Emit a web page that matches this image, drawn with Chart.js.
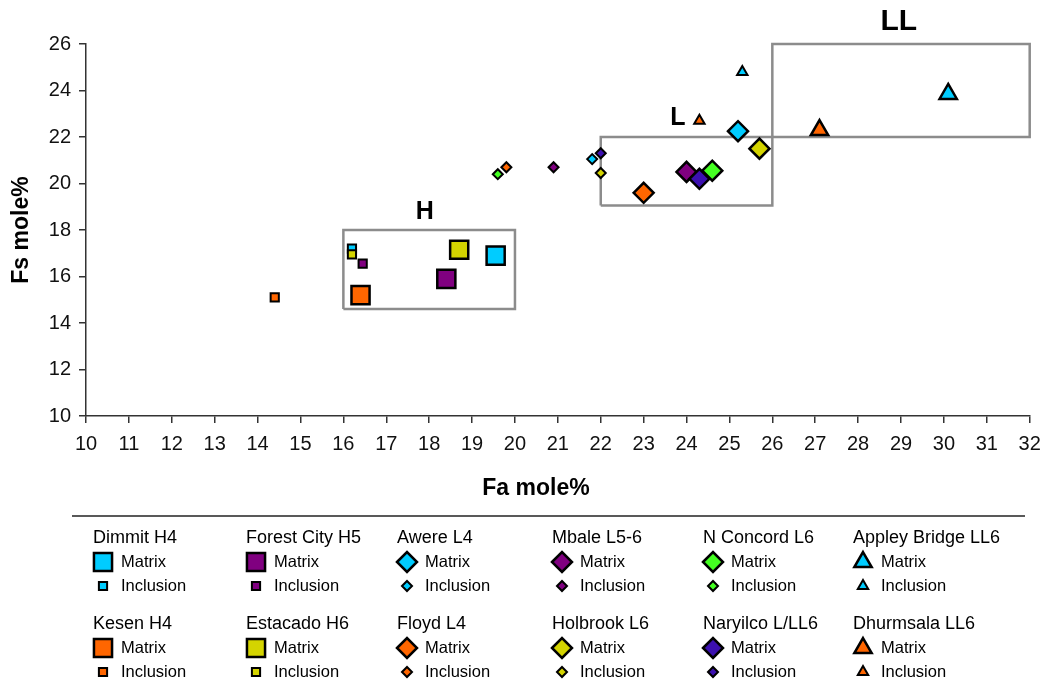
<!DOCTYPE html>
<html>
<head>
<meta charset="utf-8">
<script src="https://cdn.jsdelivr.net/npm/chart.js@4.4.1/dist/chart.umd.min.js"></script>
<style>
  html, body { margin: 0; padding: 0; background: #fff; }
  #wrap { position: relative; width: 1045px; height: 682px; }
</style>
</head>
<body>
<div id="wrap"><canvas id="olivineChart"></canvas></div>
<script>
// Meteorites, in legend order (two rows of six)
const meteorites = ['Dimmit H4', 'Forest City H5', 'Awere L4', 'Mbale L5-6', 'N Concord L6', 'Appley Bridge LL6',
                    'Kesen H4', 'Estacado H6', 'Floyd L4', 'Holbrook L6', 'Naryilco L/LL6', 'Dhurmsala LL6'];

// Olivine composition of the matrix and of the inclusions
const matrixFa    = [19.55, 18.4, 25.2, 24.0, 24.6, 30.1, 16.4, 18.7, 23.0, 25.7, 24.3, 27.1];
const matrixFs    = [16.9, 15.9, 22.25, 20.5, 20.55, 23.85, 15.2, 17.15, 19.6, 21.5, 20.2, 22.3];
const inclusionFa = [16.2, 16.45, 21.8, 20.9, 19.6, 25.3, 14.4, 16.2, 19.8, 22.0, 22.0, 24.3];
const inclusionFs = [17.2, 16.55, 21.05, 20.7, 20.4, 24.8, 15.1, 16.95, 20.7, 20.45, 21.3, 22.7];

// Equilibrated chondrite fields
const groupNames   = ['H', 'L', 'LL'];
const groupFa      = [[16, 20], [22, 26], [26, 32]];
const groupFs      = [[14.6, 18], [19.05, 22], [22, 26]];
const groupLabelFa = [17.9, 23.8, 28.95];
const groupLabelFs = [18.75, 22.8, 26.95];

// Axis ranges
const faRange = [10, 32, 1];
const fsRange = [10, 26, 2];

// Styles
const colors = ['#00ccff', '#800080', '#00ccff', '#800080', '#44ff22', '#00ccff',
                '#ff6600', '#d4d400', '#ff6600', '#d4d400', '#3c10b0', '#ff6600'];
const shapes = ['rect', 'rect', 'rectRot', 'rectRot', 'rectRot', 'triangle',
                'rect', 'rect', 'rectRot', 'rectRot', 'rectRot', 'triangle'];
const bigRadius = { rect: 12.8, rectRot: 10, triangle: 10 };
const smallRadius = { rect: 5.8, rectRot: 5, triangle: 6 };
const FONT = "'Liberation Sans', Arial, sans-serif";

const datasets = [];

// field boxes, drawn underneath
groupNames.forEach((name, i) => {
    const [x0, x1] = groupFa[i];
    const [y0, y1] = groupFs[i];
    datasets.push({
        type: 'line',
        label: name + ' field',
        data: [{x: x0, y: y0}, {x: x1, y: y0}, {x: x1, y: y1}, {x: x0, y: y1}, {x: x0, y: y0}],
        borderColor: '#8c8c8c',
        borderWidth: 2.5,
        pointRadius: 0,
        fill: false,
        tension: 0,
        clip: false,
        order: 100
    });
});

meteorites.forEach((name, i) => {
    datasets.push({
        label: name + ' Matrix',
        data: [{x: matrixFa[i], y: matrixFs[i]}],
        pointStyle: shapes[i],
        pointRadius: bigRadius[shapes[i]],
        pointHoverRadius: bigRadius[shapes[i]],
        backgroundColor: colors[i],
        borderColor: '#000',
        borderWidth: 2.5,
        clip: false,
        order: -2 * i
    });
    datasets.push({
        label: name + ' Inclusion',
        data: [{x: inclusionFa[i], y: inclusionFs[i]}],
        pointStyle: shapes[i],
        pointRadius: smallRadius[shapes[i]],
        pointHoverRadius: smallRadius[shapes[i]],
        backgroundColor: colors[i],
        borderColor: '#000',
        borderWidth: 2,
        clip: false,
        order: -2 * i - 1
    });
});

// Field letters, x axis title and the grouped legend
const annotations = {
    id: 'annotations',
    afterDatasetsDraw(chart) {
        const ctx = chart.ctx;
        const xs = chart.scales.x, ys = chart.scales.y;
        ctx.save();
        ctx.fillStyle = '#000';
        ctx.textAlign = 'center';
        ctx.textBaseline = 'middle';
        groupNames.forEach((name, i) => {
            ctx.font = 'bold ' + (name === 'LL' ? 30 : 25) + 'px ' + FONT;
            ctx.fillText(name, xs.getPixelForValue(groupLabelFa[i]), ys.getPixelForValue(groupLabelFs[i]));
        });
        ctx.restore();
    },
    afterDraw(chart) {
        const ctx = chart.ctx;
        ctx.save();
        // x axis title
        ctx.fillStyle = '#000';
        ctx.font = 'bold 23px ' + FONT;
        ctx.textAlign = 'center';
        ctx.textBaseline = 'middle';
        ctx.fillText('Fa mole%', 536, 489);

        // separator line
        ctx.strokeStyle = '#222';
        ctx.lineWidth = 1.5;
        ctx.beginPath();
        ctx.moveTo(72, 516);
        ctx.lineTo(1025, 516);
        ctx.stroke();

        const colX = [93, 246, 397, 552, 703, 853];
        const rowY = [538, 624];
        ctx.textAlign = 'left';
        meteorites.forEach((name, i) => {
            const cx = colX[i % 6];
            const cy = rowY[Math.floor(i / 6)];
            ctx.fillStyle = '#000';
            ctx.font = '18px ' + FONT;
            ctx.fillText(name, cx, cy);
            ctx.font = '16.5px ' + FONT;
            ctx.fillText('Matrix', cx + 28, cy + 24);
            ctx.fillText('Inclusion', cx + 28, cy + 48);
            ctx.fillStyle = colors[i];
            ctx.strokeStyle = '#000';
            ctx.lineWidth = 2.5;
            Chart.helpers.drawPoint(ctx, {pointStyle: shapes[i], radius: bigRadius[shapes[i]], borderWidth: 2.5, rotation: 0}, cx + 10, cy + 24);
            ctx.lineWidth = 2;
            Chart.helpers.drawPoint(ctx, {pointStyle: shapes[i], radius: smallRadius[shapes[i]], borderWidth: 2, rotation: 0}, cx + 10, cy + 48);
        });
        ctx.restore();
    }
};

new Chart(document.getElementById('olivineChart'), {
    type: 'scatter',
    data: { datasets },
    options: {
        responsive: true,
        maintainAspectRatio: false,
        animation: false,
        events: [],
        layout: { padding: { left: 0, top: 44, right: 14, bottom: 0 } },
        plugins: {
            legend: { display: false },
            tooltip: { enabled: false }
        },
        scales: {
            x: {
                type: 'linear',
                min: faRange[0],
                max: faRange[1],
                afterFit(scale) { scale.height = 266; scale.paddingRight = 0; scale.paddingLeft = 0; },
                border: { display: true, color: '#333', width: 1.5 },
                grid: { drawOnChartArea: false, drawTicks: true, tickLength: 7, color: '#333', lineWidth: 1.5 },
                ticks: { stepSize: faRange[2], color: '#111', padding: 9, font: { family: FONT, size: 20 } }
            },
            y: {
                type: 'linear',
                min: fsRange[0],
                max: fsRange[1],
                afterFit(scale) { scale.width = 86; scale.paddingTop = 0; scale.paddingBottom = 0; },
                border: { display: true, color: '#333', width: 1.5 },
                grid: { drawOnChartArea: false, drawTicks: true, tickLength: 7, color: '#333', lineWidth: 1.5 },
                ticks: { stepSize: fsRange[2], color: '#111', padding: 8, font: { family: FONT, size: 20 } },
                title: { display: true, text: 'Fs mole%', color: '#000', padding: { top: 8, bottom: 0 }, font: { family: FONT, size: 23, weight: 'bold' } }
            }
        }
    },
    plugins: [annotations]
});
</script>
</body>
</html>
